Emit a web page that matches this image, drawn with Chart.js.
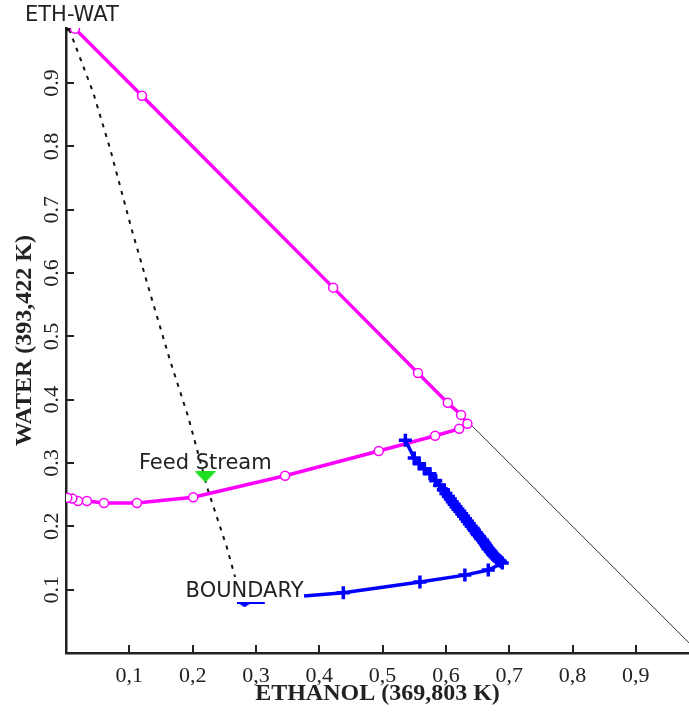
<!DOCTYPE html>
<html>
<head>
<meta charset="utf-8">
<script src="https://cdn.jsdelivr.net/npm/chart.js@4/dist/chart.umd.min.js"></script>
<style>
  html, body { margin: 0; padding: 0; background: #fff; overflow: hidden; }
  #wrap { width: 689px; height: 712px; position: relative; }
</style>
</head>
<body>
<div id="wrap"><canvas id="c"></canvas></div>
<script>
// Ethanol-water curve (mole fractions): down the binary edge, then back along the two-phase branch
const ethWatEthanol = [0.014, 0.120, 0.422, 0.556, 0.603, 0.624, 0.634, 0.621, 0.583, 0.494, 0.346, 0.201, 0.112, 0.060, 0.033, 0.019, 0.010, 0.002];
const ethWatWater   = [0.986, 0.880, 0.577, 0.442, 0.395, 0.376, 0.362, 0.354, 0.343, 0.319, 0.280, 0.246, 0.237, 0.237, 0.240, 0.240, 0.244, 0.245];

// Distillation boundary profile
const boundaryEthanol = [0.536, 0.550, 0.558, 0.566, 0.575, 0.584, 0.590, 0.596, 0.600, 0.604, 0.607, 0.610, 0.613, 0.616, 0.619, 0.622, 0.625, 0.628, 0.631, 0.634, 0.637, 0.640, 0.643, 0.645, 0.648, 0.650, 0.653, 0.655, 0.658, 0.660, 0.662, 0.664, 0.666, 0.668, 0.670, 0.672, 0.674, 0.676, 0.678, 0.680, 0.682, 0.684, 0.686, 0.689, 0.667, 0.630, 0.559, 0.438, 0.376];
const boundaryWater   = [0.336, 0.308, 0.299, 0.291, 0.283, 0.272, 0.265, 0.258, 0.252, 0.247, 0.243, 0.239, 0.235, 0.231, 0.227, 0.224, 0.220, 0.216, 0.212, 0.208, 0.204, 0.200, 0.197, 0.194, 0.190, 0.187, 0.184, 0.181, 0.178, 0.175, 0.172, 0.169, 0.166, 0.164, 0.161, 0.159, 0.156, 0.154, 0.152, 0.150, 0.148, 0.146, 0.145, 0.142, 0.131, 0.123, 0.112, 0.095, 0.090];

// Mass-balance line from the ETH-WAT point through the feed
const balanceEthanol = [0.005, 0.043, 0.070, 0.104, 0.130, 0.164, 0.193, 0.224, 0.254, 0.267];
const balanceWater   = [0.985, 0.885, 0.795, 0.668, 0.578, 0.463, 0.373, 0.258, 0.167, 0.120];

// Edge of the composition triangle (ethanol + water = 1)
const edgeEthanol = [0, 1];
const edgeWater   = [1, 0];

// Labelled points
const pointNames   = ['ETH-WAT', 'Feed Stream', 'BOUNDARY'];
const pointEthanol = [0.003, 0.220, 0.282];
const pointWater   = [0.985, 0.278, 0.076];

// Short boundary key segment under the BOUNDARY label
const keyEthanol = [0.270, 0.314];
const keyWater   = [0.079, 0.079];

// Axis ticks
const xTickValues = [0.1, 0.2, 0.3, 0.4, 0.5, 0.6, 0.7, 0.8, 0.9];
const xTickLabels = ['0,1', '0,2', '0,3', '0,4', '0,5', '0,6', '0,7', '0,8', '0,9'];
const yTickValues = [0.1, 0.2, 0.3, 0.4, 0.5, 0.6, 0.7, 0.8, 0.9];
const yTickLabels = ['0.1', '0.2', '0.3', '0.4', '0.5', '0.6', '0.7', '0.8', '0.9'];

const pts = (xs, ys) => xs.map((x, i) => ({ x: x, y: ys[i] }));

// Flat downward triangles used as point markers
function downTriangle(w, h, color) {
  const cv = document.createElement('canvas');
  cv.width = w; cv.height = h;
  const g = cv.getContext('2d');
  g.fillStyle = color;
  g.beginPath();
  g.moveTo(0, 0); g.lineTo(w, 0); g.lineTo(w / 2, h); g.closePath();
  g.fill();
  return cv;
}
const markerStyles = [downTriangle(6, 5, '#000'), downTriangle(21, 11, '#1ee01e'), downTriangle(15, 5, '#0000ff')];

// Inward tick marks on both axes
const innerTicks = {
  id: 'innerTicks',
  beforeDatasetsDraw(chart) {
    const { ctx, chartArea: a, scales: { x, y } } = chart;
    ctx.save();
    ctx.strokeStyle = '#222';
    ctx.lineWidth = 2;
    ctx.beginPath();
    xTickValues.forEach(v => {
      const px = Math.round(x.getPixelForValue(v));
      ctx.moveTo(px, a.bottom); ctx.lineTo(px, a.bottom - 8);
    });
    yTickValues.forEach(v => {
      const py = Math.round(y.getPixelForValue(v));
      ctx.moveTo(a.left, py); ctx.lineTo(a.left + 8, py);
    });
    ctx.stroke();
    ctx.restore();
  }
};

// Names written above the labelled points
const pointText = {
  id: 'pointText',
  afterDatasetsDraw(chart) {
    const { ctx, scales: { x, y } } = chart;
    ctx.save();
    ctx.font = '21px "DejaVu Sans"';
    ctx.fillStyle = '#222';
    ctx.textAlign = 'center';
    ctx.textBaseline = 'alphabetic';
    pointNames.forEach((name, i) => {
      const px = x.getPixelForValue(pointEthanol[i]);
      const py = y.getPixelForValue(pointWater[i]);
      ctx.fillText(name, px + (i === 0 ? 4 : 0), py - 8);
    });
    ctx.restore();
  }
};

const tickFont = { family: '"Liberation Serif", "Times New Roman", serif', size: 22 };
const titleFont = { family: '"Liberation Serif", "Times New Roman", serif', size: 24, weight: 'bold' };

new Chart(document.getElementById('c'), {
  type: 'scatter',
  data: {
    datasets: [
      {
        label: 'Labelled points',
        data: pts(pointEthanol, pointWater),
        pointStyle: markerStyles,
        pointRadius: 6,
        showLine: false,
        order: 0
      },
      {
        label: 'Boundary key',
        data: pts(keyEthanol, keyWater),
        showLine: true,
        borderColor: '#0000ff',
        borderWidth: 2,
        pointRadius: 0,
        order: 1
      },
      {
        label: 'Boundary',
        data: pts(boundaryEthanol, boundaryWater),
        showLine: true,
        borderColor: '#0000ff',
        borderWidth: 3.5,
        pointStyle: 'cross',
        pointRadius: c => (c.dataIndex === boundaryEthanol.length - 1 ? 0 : 6.5),
        pointBorderWidth: 3.5,
        pointBorderColor: '#0000ff',
        order: 2
      },
      {
        label: 'ETH-WAT',
        data: pts(ethWatEthanol, ethWatWater),
        showLine: true,
        borderColor: '#ff00ff',
        borderWidth: 3.5,
        pointStyle: 'circle',
        pointRadius: 4.5,
        pointBackgroundColor: '#ffffff',
        pointBorderColor: '#ff00ff',
        pointBorderWidth: 1.5,
        order: 3
      },
      {
        label: 'Mass balance',
        data: pts(balanceEthanol, balanceWater),
        showLine: true,
        borderColor: '#111',
        borderWidth: 2,
        borderDash: [4, 6],
        pointRadius: 0,
        order: 4
      },
      {
        label: 'Edge',
        data: pts(edgeEthanol, edgeWater),
        showLine: true,
        borderColor: '#333',
        borderWidth: 1,
        pointRadius: 0,
        order: 5
      }
    ]
  },
  options: {
    responsive: true,
    maintainAspectRatio: false,
    animation: false,
    events: [],
    layout: { autoPadding: false, padding: { top: 28, right: 0, bottom: 0, left: 0 } },
    plugins: { legend: { display: false }, tooltip: { enabled: false } },
    scales: {
      x: {
        type: 'linear',
        min: 0,
        max: 0.984,
        grid: { display: false, drawTicks: false },
        border: { color: '#222', width: 2.5 },
        afterBuildTicks: s => { s.ticks = xTickValues.map(v => ({ value: v })); },
        afterFit: s => { s.height = 59; s.paddingLeft = 0; s.paddingRight = 0; },
        ticks: {
          autoSkip: false,
          maxRotation: 0,
          padding: 10,
          color: '#222',
          font: tickFont,
          callback: (v, i) => xTickLabels[i]
        },
        title: {
          display: true,
          text: 'ETHANOL (369,803 K)',
          color: '#222',
          font: titleFont,
          padding: { top: 0, bottom: 4 }
        }
      },
      y: {
        type: 'linear',
        min: 0,
        max: 0.987,
        grid: { display: false, drawTicks: false },
        border: { color: '#222', width: 2.5 },
        afterBuildTicks: s => { s.ticks = yTickValues.map(v => ({ value: v })); },
        afterFit: s => { s.width = 66; s.paddingTop = 0; s.paddingBottom = 0; },
        ticks: {
          autoSkip: false,
          minRotation: 90,
          maxRotation: 90,
          crossAlign: 'center',
          padding: 0,
          color: '#222',
          font: tickFont,
          callback: (v, i) => yTickLabels[i]
        },
        title: {
          display: true,
          text: 'WATER (393,422 K)',
          color: '#222',
          font: titleFont,
          padding: { top: 10, bottom: 0 }
        }
      }
    }
  },
  plugins: [innerTicks, pointText]
});
</script>
</body>
</html>
